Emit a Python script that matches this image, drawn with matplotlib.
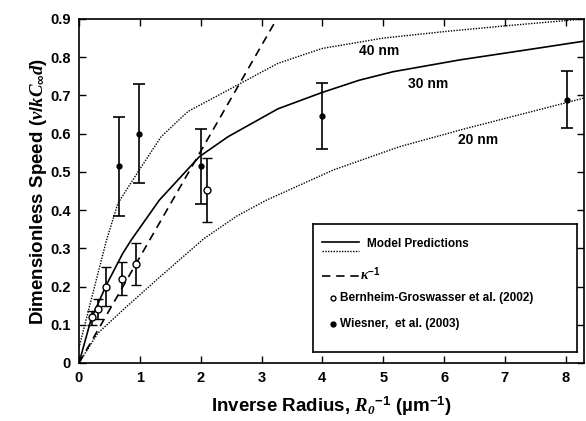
import numpy as np
import matplotlib
matplotlib.use("Agg")
import matplotlib.pyplot as plt

plt.rcParams['font.family'] = ['Liberation Sans', 'DejaVu Sans']
plt.rcParams['font.weight'] = 'bold'
plt.rcParams['mathtext.fontset'] = 'custom'
plt.rcParams['mathtext.rm'] = 'Liberation Sans:bold'
plt.rcParams['mathtext.it'] = 'Liberation Serif:italic'
plt.rcParams['mathtext.bf'] = 'Liberation Serif:bold:italic'
plt.rcParams['mathtext.fallback'] = 'stix'

# model predictions
x_30nm = [0, 0.2, 0.45, 0.72, 0.86, 1.32, 1.98, 2.45, 3.27, 4, 4.61, 5.16, 6.26, 7.35, 8.3]
y_30nm = [0, 0.115, 0.204, 0.287, 0.322, 0.426, 0.54, 0.592, 0.665, 0.708, 0.74, 0.762, 0.793, 0.819, 0.842]
x_40nm = [0, 0.2, 0.45, 0.64, 0.97, 1.35, 1.79, 2.45, 3.27, 4, 5, 6, 7, 8.3]
y_40nm = [0.04, 0.165, 0.32, 0.418, 0.5, 0.592, 0.658, 0.714, 0.784, 0.823, 0.85, 0.867, 0.882, 0.9]
x_20nm = [0, 0.31, 0.8, 1.35, 2.05, 2.6, 3.08, 4.18, 5.27, 6.37, 7.3, 8.3]
y_20nm = [0, 0.078, 0.15, 0.228, 0.325, 0.385, 0.426, 0.505, 0.566, 0.614, 0.652, 0.693]
x_kappa = [0, 3.25]
y_kappa = [0, 0.9]

# Bernheim-Groswasser et al. (2002)
bg_x = [0.21, 0.31, 0.44, 0.70, 0.93, 2.10]
bg_y = [0.12, 0.14, 0.20, 0.22, 0.258, 0.452]
bg_lo = [0.10, 0.115, 0.15, 0.178, 0.205, 0.37]
bg_hi = [0.135, 0.168, 0.25, 0.265, 0.313, 0.537]

# Wiesner et al. (2003)
w_x = [0.66, 0.99, 2.0, 4.0, 8.02]
w_y = [0.515, 0.60, 0.515, 0.645, 0.688]
w_lo = [0.385, 0.472, 0.415, 0.56, 0.616]
w_hi = [0.643, 0.73, 0.613, 0.733, 0.764]

curve_labels = ['40 nm', '30 nm', '20 nm']
label_pos = [(4.94, 0.815), (5.74, 0.73), (6.56, 0.583)]

fig = plt.figure(figsize=(5.86, 4.21), dpi=100)
ax = fig.add_axes([0.1348, 0.1378, 0.8618, 0.8171])

ax.plot(x_30nm, y_30nm, color='black', lw=1.2)
ax.plot(x_40nm, y_40nm, color='black', lw=1.0, ls=(0, (1, 1)))
ax.plot(x_20nm, y_20nm, color='black', lw=1.0, ls=(0, (1, 1)))
ax.plot(x_kappa, y_kappa, color='black', lw=1.2, ls=(0, (5, 3.5)))

bg_err = [np.array(bg_y) - np.array(bg_lo), np.array(bg_hi) - np.array(bg_y)]
ax.errorbar(bg_x, bg_y, yerr=bg_err, fmt='o', mfc='white', mec='black',
            ms=5, mew=1.0, ecolor='black', elinewidth=1.2, capsize=3.5, capthick=1.2)
w_err = [np.array(w_y) - np.array(w_lo), np.array(w_hi) - np.array(w_y)]
ax.errorbar(w_x, w_y, yerr=w_err, fmt='o', color='black', ms=3.5,
            ecolor='black', elinewidth=1.2, capsize=4.5, capthick=1.2)

for lab, (lx, ly) in zip(curve_labels, label_pos):
    ax.text(lx, ly, lab, fontsize=10, fontweight='bold', ha='center', va='center')

ax.set_xlim(0, 8.3)
ax.set_ylim(0, 0.9)
ax.set_xticks(range(0, 9))
ax.set_yticks(np.arange(0, 0.91, 0.1))
ax.set_yticklabels(['0'] + ['%.1f' % v for v in np.arange(0.1, 0.91, 0.1)])
ax.tick_params(direction='in', top=True, right=True, length=5, width=1.0,
               labelsize=10.5, pad=6)
for s in ax.spines.values():
    s.set_linewidth(1.2)

ax.set_xlabel('Inverse Radius, $\\mathbf{R_0}^{-1}$ (\u00b5m$^{-1}$)',
              fontsize=13.5, fontweight='bold', labelpad=7)
ax.set_ylabel('Dimensionless Speed ($v/kC_\\infty d$)', fontsize=13.5,
              fontweight='bold', labelpad=1)

# legend box drawn by hand, in pixel units of the box
lax = ax.inset_axes([0.464, 0.033, 0.523, 0.37])
lax.set_xlim(0, 264)
lax.set_ylim(127.4, 0)
lax.set_xticks([])
lax.set_yticks([])
for s in lax.spines.values():
    s.set_linewidth(1.2)
lax.plot([8.4, 45.7], [17.4, 17.4], color='black', lw=1.2)
lax.plot([8.4, 45.7], [26.4, 26.4], color='black', lw=1.0, ls=(0, (1, 1)))
lax.text(54, 19.4, 'Model Predictions', fontsize=8.5, fontweight='bold', va='center')
lax.plot([8.4, 45.7], [51.7, 51.7], color='black', lw=1.2, ls=(0, (5, 3.5)))
lax.text(46.5, 50, '$\\kappa^{-1}$', fontsize=10, va='center')
lax.plot([20], [73.4], 'o', mfc='white', mec='black', ms=3.5, mew=1.0)
lax.text(27, 73.4, 'Bernheim-Groswasser et al. (2002)', fontsize=8.5,
         fontweight='bold', va='center')
lax.plot([20], [100], 'o', color='black', ms=3.5)
lax.text(27, 100, 'Wiesner,  et al. (2003)', fontsize=8.5, fontweight='bold', va='center')

fig.savefig('out.png', dpi=100)
